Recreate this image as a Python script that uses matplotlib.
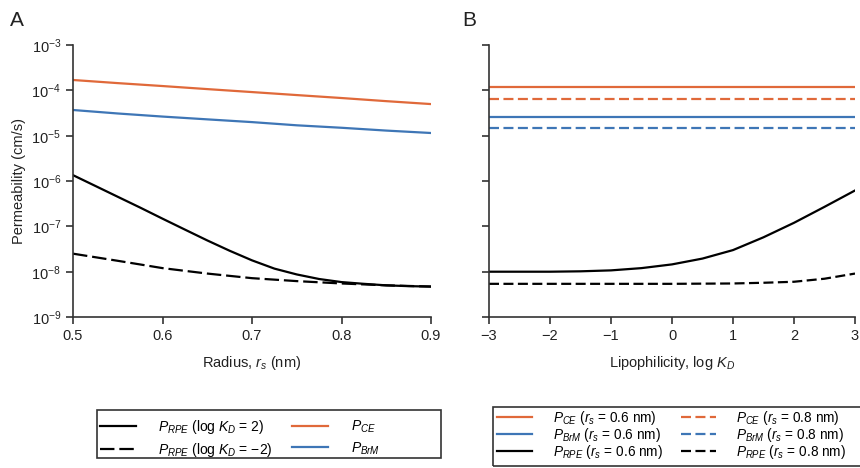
import matplotlib
matplotlib.use("Agg")
from matplotlib import pyplot as plt
from matplotlib.patches import Rectangle
from matplotlib.ticker import LogLocator, LogFormatterMathtext, NullFormatter, NullLocator

plt.rcParams['font.family'] = ['Liberation Sans', 'DejaVu Sans']
plt.rcParams['mathtext.fontset'] = 'custom'
plt.rcParams['mathtext.rm'] = 'Liberation Sans'
plt.rcParams['mathtext.it'] = 'Liberation Sans:italic'
plt.rcParams['mathtext.default'] = 'regular'

# Panel A: permeability vs solute radius
radius = [0.5, 0.55, 0.6, 0.65, 0.7, 0.75, 0.8, 0.85, 0.9]
p_ce_a = [1.7e-4, 1.45e-4, 1.25e-4, 1.07e-4, 9.2e-5, 7.9e-5, 6.8e-5, 5.8e-5, 5.0e-5]
p_brm_a = [3.7e-5, 3.1e-5, 2.65e-5, 2.3e-5, 2.0e-5, 1.7e-5, 1.5e-5, 1.3e-5, 1.15e-5]
p_rpe_kdm2 = [2.5e-8, 1.74e-8, 1.2e-8, 9.1e-9, 7.2e-9, 6.2e-9, 5.5e-9, 5.0e-9, 4.7e-9]
radius_fine = [0.5, 0.525, 0.55, 0.575, 0.6, 0.625, 0.65, 0.675, 0.7, 0.725, 0.75,
               0.775, 0.8, 0.825, 0.85, 0.875, 0.9]
p_rpe_kd2 = [1.35e-6, 7.8e-7, 4.5e-7, 2.6e-7, 1.48e-7, 8.5e-8, 4.9e-8, 2.9e-8, 1.78e-8,
             1.17e-8, 8.7e-9, 6.9e-9, 5.9e-9, 5.4e-9, 5.0e-9, 4.8e-9, 4.7e-9]

# Panel B: permeability vs lipophilicity
logkd = [-3, -2.5, -2, -1.5, -1, -0.5, 0, 0.5, 1, 1.5, 2, 2.5, 3]
p_ce_06 = [1.18e-4] * 13
p_ce_08 = [6.5e-5] * 13
p_brm_06 = [2.6e-5] * 13
p_brm_08 = [1.45e-5] * 13
p_rpe_06 = [1.0e-8, 1.0e-8, 1.0e-8, 1.02e-8, 1.07e-8, 1.2e-8, 1.45e-8, 1.95e-8,
            3.0e-8, 5.75e-8, 1.2e-7, 2.7e-7, 6.2e-7]
p_rpe_08 = [5.4e-9, 5.4e-9, 5.4e-9, 5.4e-9, 5.4e-9, 5.4e-9, 5.4e-9, 5.45e-9,
            5.5e-9, 5.7e-9, 6.0e-9, 7.0e-9, 9.1e-9]

orange = '#e0693a'
blue = '#3e76b6'
spine_col = '#333333'
txt_col = '#222222'

fig = plt.figure(figsize=(8.6, 4.68), dpi=100)
ax1 = fig.add_axes([0.0849, 0.3226, 0.4163, 0.581])
ax2 = fig.add_axes([0.5686, 0.3226, 0.4256, 0.581])

lw = 1.6
dash_a = (6.5, 2.2)
dash_b = (4.5, 2.0)
ax1.plot(radius_fine, p_rpe_kd2, color='black', lw=lw)
ax1.plot(radius, p_rpe_kdm2, color='black', lw=lw, dashes=dash_a)
ax1.plot(radius, p_ce_a, color=orange, lw=lw)
ax1.plot(radius, p_brm_a, color=blue, lw=lw)

ax2.plot(logkd, p_ce_06, color=orange, lw=lw)
ax2.plot(logkd, p_brm_06, color=blue, lw=lw)
ax2.plot(logkd, p_rpe_06, color='black', lw=lw)
ax2.plot(logkd, p_ce_08, color=orange, lw=lw, dashes=dash_b)
ax2.plot(logkd, p_brm_08, color=blue, lw=lw, dashes=dash_b)
ax2.plot(logkd, p_rpe_08, color='black', lw=lw, dashes=dash_b)

for ax in (ax1, ax2):
    ax.set_yscale('log')
    ax.set_ylim(1e-9, 1e-3)
    ax.yaxis.set_major_locator(LogLocator(base=10, numticks=10))
    ax.yaxis.set_minor_locator(NullLocator())
    for s in ('top', 'right'):
        ax.spines[s].set_visible(False)
    for s in ('left', 'bottom'):
        ax.spines[s].set_color(spine_col)
        ax.spines[s].set_linewidth(1.2)
    ax.tick_params(direction='out', length=5, width=1.2, color=spine_col,
                   labelsize=10.5, labelcolor=txt_col)

ax1.set_xlim(0.5, 0.9)
ax1.set_xticks([0.5, 0.6, 0.7, 0.8, 0.9])
ax1.yaxis.set_major_formatter(LogFormatterMathtext())
ax1.set_ylabel('Permeability (cm/s)', fontsize=10.5, color=txt_col, labelpad=4)
ax1.set_xlabel(r'Radius, $\mathit{r}_{\mathit{s}}$ (nm)', fontsize=10.5, color=txt_col, labelpad=8)

ax2.set_xlim(-3, 3)
ax2.set_xticks([-3, -2, -1, 0, 1, 2, 3])
ax2.set_xticklabels(['\u22123', '\u22122', '\u22121', '0', '1', '2', '3'])
ax2.yaxis.set_major_formatter(NullFormatter())
ax2.set_xlabel(r'Lipophilicity, log $\mathit{K}_{\mathit{D}}$', fontsize=10.5, color=txt_col, labelpad=8)

fig.text(0.012, 0.945, 'A', fontsize=15, color=txt_col)
fig.text(0.538, 0.945, 'B', fontsize=15, color=txt_col)

# legends (frames drawn separately so the box sizes match the original)
W, H = 860.0, 468.0
fig.patches.append(Rectangle((97 / W, 1 - 458 / H), 344 / W, 48 / H, transform=fig.transFigure,
                             fill=False, edgecolor=spine_col, lw=1.2))
fig.patches.append(Rectangle((493 / W, 1 - 466 / H), 380 / W, 59 / H, transform=fig.transFigure,
                             fill=False, edgecolor=spine_col, lw=1.2))

h1 = ax1.get_lines()
labels1 = [r'$\mathit{P}_{\mathit{RPE}}$ (log $\mathit{K}_{\mathit{D}}$ = 2)',
           r'$\mathit{P}_{\mathit{RPE}}$ (log $\mathit{K}_{\mathit{D}}$ = ' + '\u22122)',
           r'$\mathit{P}_{\mathit{CE}}$',
           r'$\mathit{P}_{\mathit{BrM}}$']
fig.legend(h1, labels1, ncol=2, loc='upper left', bbox_to_anchor=(100 / W, 1 - 418 / H),
           fontsize=10, frameon=False, handlelength=2.6, handletextpad=1.6,
           columnspacing=1.4, labelspacing=0.35, borderpad=0, borderaxespad=0,
           handleheight=0.7)

h2 = ax2.get_lines()
labels2 = [r'$\mathit{P}_{\mathit{CE}}$ ($\mathit{r}_{\mathit{s}}$ = 0.6 nm)',
           r'$\mathit{P}_{\mathit{BrM}}$ ($\mathit{r}_{\mathit{s}}$ = 0.6 nm)',
           r'$\mathit{P}_{\mathit{RPE}}$ ($\mathit{r}_{\mathit{s}}$ = 0.6 nm)',
           r'$\mathit{P}_{\mathit{CE}}$ ($\mathit{r}_{\mathit{s}}$ = 0.8 nm)',
           r'$\mathit{P}_{\mathit{BrM}}$ ($\mathit{r}_{\mathit{s}}$ = 0.8 nm)',
           r'$\mathit{P}_{\mathit{RPE}}$ ($\mathit{r}_{\mathit{s}}$ = 0.8 nm)']
fig.legend(h2, labels2, ncol=2, loc='upper left', bbox_to_anchor=(497 / W, 1 - 409 / H),
           fontsize=9.8, frameon=False, handlelength=2.6, handletextpad=1.5,
           columnspacing=1.3, labelspacing=-0.08, borderpad=0, borderaxespad=0,
           handleheight=0.7)

fig.savefig('out.png', dpi=100)
